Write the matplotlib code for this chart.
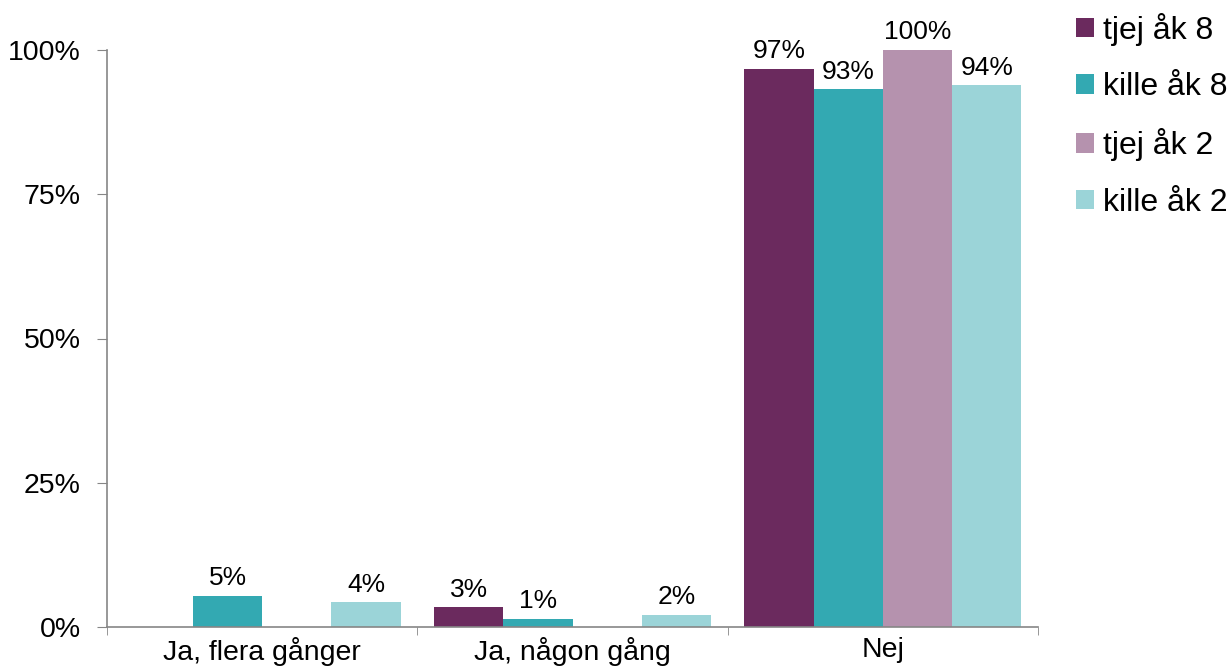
import numpy as np
import matplotlib.pyplot as plt
from matplotlib.ticker import PercentFormatter

plt.rcParams['font.family'] = ['Liberation Sans', 'DejaVu Sans']

# Datos
categorias = ['Ja, flera gånger', 'Ja, någon gång', 'Nej']
series = ['tjej åk 8', 'kille åk 8', 'tjej åk 2', 'kille åk 2']
tjej_ak8 = [0.0, 3.4, 96.7]
kille_ak8 = [5.4, 1.4, 93.2]
tjej_ak2 = [0.0, 0.0, 100.0]
kille_ak2 = [4.3, 2.1, 93.9]
colores = ['#6B2A5E', '#33A9B2', '#B592AE', '#9BD4D8']

valores = [tjej_ak8, kille_ak8, tjej_ak2, kille_ak2]

fig = plt.figure(figsize=(12.32, 6.71), dpi=100)
ax = fig.add_axes([107/1232, 1 - 627/671, (1038 - 107)/1232, (627 - 50)/671])

x = np.arange(len(categorias))
ancho = 0.2233
for i, (nombre, vals, col) in enumerate(zip(series, valores, colores)):
    pos = x + (i - 1.5) * ancho
    barras = ax.bar(pos, vals, width=ancho, color=col, label=nombre)
    for b, v in zip(barras, vals):
        if v > 0:
            ax.annotate(f'{round(v)}%', (b.get_x() + b.get_width()/2, v),
                        xytext=(0, 4), textcoords='offset points',
                        ha='center', va='bottom', fontsize=19)

ax.set_xlim(-0.5, 2.5)
ax.set_ylim(0, 100)
ax.set_yticks([0, 25, 50, 75, 100])
ax.yaxis.set_major_formatter(PercentFormatter(decimals=0))
ax.tick_params(axis='y', labelsize=20.5, length=7, color='#868686', pad=12)

ax.set_xticks(x)
ax.set_xticklabels(categorias, fontsize=20.5)
ax.set_xticks([-0.5, 0.5, 1.5, 2.5], minor=True)
ax.tick_params(axis='x', which='major', length=0, pad=7)
ax.tick_params(axis='x', which='minor', length=6, color='#868686')

for s in ['top', 'right']:
    ax.spines[s].set_visible(False)
for s in ['left', 'bottom']:
    ax.spines[s].set_color('#868686')
    ax.spines[s].set_linewidth(1.2)

fig.legend(loc='upper left', bbox_to_anchor=(1076/1232, 1 - 13/671),
           frameon=False, fontsize=23, handlelength=0.55, handleheight=0.55,
           handletextpad=0.3, labelspacing=0.82, borderpad=0, borderaxespad=0)

fig.savefig('out.png', dpi=100)
